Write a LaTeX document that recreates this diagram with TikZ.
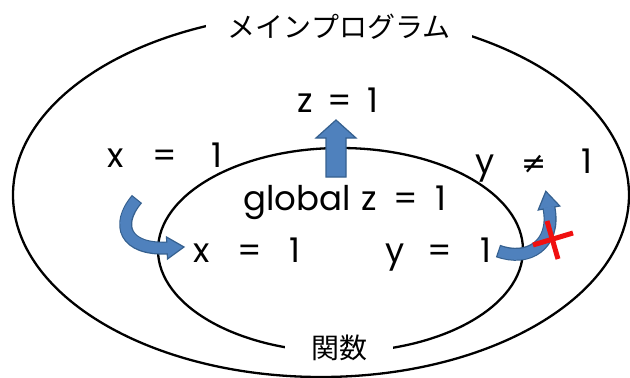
\documentclass[tikz,border=0pt]{standalone}
\usepackage{fontspec}
\setmainfont{Poppins}
\newfontfamily\jpfont{Noto Sans CJK JP}
\newfontfamily\symfont{DejaVu Sans}
\definecolor{arrowfill}{HTML}{4F81BD}
\definecolor{arrowedge}{HTML}{35608F}
\definecolor{crossred}{HTML}{F01010}
\tikzset{
  ring/.style={line width=2.3pt, draw=black},
  gaplabel/.style={fill=white, inner ysep=3pt, font=\fontsize{28}{32}\selectfont\jpfont},
  txt/.style={anchor=base, inner sep=0pt, font=\fontsize{34}{40}\selectfont},
  shaftout/.style={line width=13pt, draw=arrowedge},
  shaftin/.style={line width=10.6pt, draw=arrowfill, shorten <=1.2pt, shorten >=-1pt},
  headshape/.style={fill=arrowfill, draw=arrowedge, line width=1.2pt, line join=miter},
  crossbar/.style={line width=5pt, draw=crossred},
}
\newcommand{\neqsym}{{\fontsize{30}{34}\selectfont\symfont ≠}}
\begin{document}
\begin{tikzpicture}[x=1pt,y=-1pt]
\useasboundingbox (0,0) rectangle (630,378);
\fill[white] (0,0) rectangle (630,378);

% ellipses
\draw[ring] (321,195) ellipse [x radius=308, y radius=182];
\draw[ring] (340.5,250) ellipse [x radius=182.5, y radius=102];

% labels breaking the ellipses
\node[gaplabel, inner xsep=22pt] (main) at (339,27) {メインプログラム};
\node[gaplabel, inner xsep=26pt] (func) at (339,348) {関数};

% texts
\node[txt] (zmain) at (337.5,112) {z\hspace{15pt}=\hspace{15pt}1};
\node[txt] (xmain) at (165,167) {x\hspace{29pt}=\hspace{35pt}1};
\node[txt] (ymain) at (534,173) {y\hspace{26pt}\neqsym\hspace{35pt}1};
\node[txt] (glob) at (345,210) {global\hspace{11pt}z\hspace{16pt}=\hspace{18pt}1};
\node[txt] (xfun) at (247,262) {x\hspace{28pt}=\hspace{28pt}1};
\node[txt] (yfun) at (438.5,262) {y\hspace{23pt}=\hspace{29pt}1};

% up arrow
\filldraw[headshape] (326,177) -- (326,138) -- (316,138) -- (336,120) -- (356,138) -- (346,138) -- (346,177) -- cycle;

% left curved arrow
\coordinate (la0) at (137,199);
\coordinate (la1) at (167,248);
\coordinate (latip) at (184,247);
\coordinate (lab1) at (166.5,237);
\coordinate (lab2) at (167.5,259);
\filldraw[headshape] (latip) -- (lab1) -- (lab2) -- cycle;
\draw[shaftout] (la0) .. controls (115,225) and (125,250) .. (la1);
\draw[shaftin] (la0) .. controls (115,225) and (125,250) .. (la1);

% right curved arrow
\coordinate (ra0) at (498,251);
\coordinate (ra1) at (549,208);
\coordinate (ratip) at (545.8,191.3);
\coordinate (rab1) at (559.8,206);
\coordinate (rab2) at (538.2,210);
\filldraw[headshape] (ratip) -- (rab1) -- (rab2) -- cycle;
\draw[shaftout] (ra0) .. controls (528,262) and (556,245) .. (ra1);
\draw[shaftin] (ra0) .. controls (528,262) and (556,245) .. (ra1);

% red cross
\draw[crossbar] (533,245) -- (573,233);
\draw[crossbar] (547,221) -- (558,259);
\end{tikzpicture}
\end{document}
